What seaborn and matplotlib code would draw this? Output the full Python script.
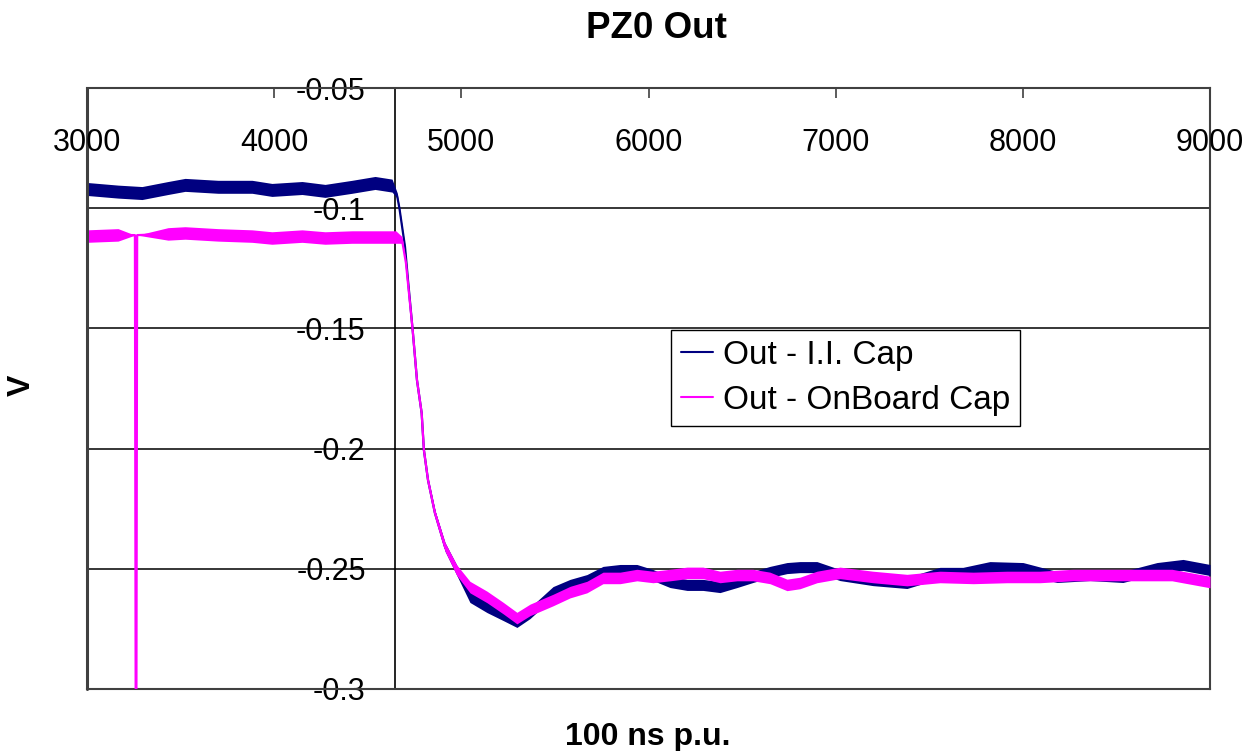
import numpy as np
import pandas as pd
import matplotlib
matplotlib.use("Agg")
import matplotlib.pyplot as plt
from matplotlib.lines import Line2D
import seaborn as sns

# ---- data -------------------------------------------------------------
title = "PZ0 Out"
x_label = "100 ns p.u."
y_label = "V"
series_names = ["Out - I.I. Cap", "Out - OnBoard Cap"]

x_ticks = [3000, 4000, 5000, 6000, 7000, 8000, 9000]
y_ticks = [-0.3, -0.25, -0.2, -0.15, -0.1, -0.05]
y_tick_labels = ["-0.3", "-0.25", "-0.2", "-0.15", "-0.1", "-0.05"]
y_axis_cross = 4645

# Out - I.I. Cap (trace centre and noise half-width)
ii_x = [3000, 3166, 3294, 3433, 3524, 3700, 3882, 3988, 4149, 4272, 4416,
        4539, 4630, 4656, 4669, 4699, 4715, 4740, 4763, 4788, 4800, 4822,
        4859, 4913, 4975, 5046, 5137, 5223, 5297, 5367, 5490, 5581, 5671,
        5757, 5848, 5938, 6024, 6115, 6206, 6291, 6382, 6473, 6558, 6649,
        6740, 6809, 6900, 7023, 7199, 7381, 7557, 7680, 7824, 8001, 8182,
        8359, 8535, 8717, 8856, 9000]
ii_v = [-0.0920, -0.0931, -0.0937, -0.0916, -0.0903, -0.0911, -0.0911,
        -0.0924, -0.0916, -0.0928, -0.0911, -0.0895, -0.0906, -0.0945,
        -0.0999, -0.1160, -0.1299, -0.1507, -0.1715, -0.1852, -0.2006,
        -0.2131, -0.2268, -0.2409, -0.2505, -0.2617, -0.2659, -0.2692,
        -0.2721, -0.2684, -0.2597, -0.2567, -0.2547, -0.2513, -0.2505,
        -0.2505, -0.2526, -0.2555, -0.2567, -0.2567, -0.2576, -0.2555,
        -0.2534, -0.2513, -0.2497, -0.2493, -0.2493, -0.2526, -0.2547,
        -0.2559, -0.2517, -0.2517, -0.2493, -0.2497, -0.2534, -0.2526,
        -0.2534, -0.2497, -0.2484, -0.2505]
ii_noise = [0.0027, 0.0027, 0.0027, 0.0027, 0.0027, 0.0027, 0.0027,
            0.0027, 0.0027, 0.0027, 0.0027, 0.0027, 0.0027, 0.0012,
            0.0005, 0.0003, 0.0003, 0.0003, 0.0003, 0.0003, 0.0004,
            0.0007, 0.0012, 0.0018, 0.0021, 0.0023, 0.0023, 0.0023,
            0.0023, 0.0023, 0.0023, 0.0023, 0.0023, 0.0023, 0.0023,
            0.0023, 0.0023, 0.0023, 0.0023, 0.0023, 0.0023, 0.0023,
            0.0023, 0.0023, 0.0023, 0.0023, 0.0023, 0.0023, 0.0023,
            0.0023, 0.0023, 0.0023, 0.0023, 0.0023, 0.0023, 0.0023,
            0.0023, 0.0023, 0.0023, 0.0023]

# Out - OnBoard Cap (trace centre and noise half-width)
ob_x = [3000, 3166, 3256, 3262, 3268, 3433, 3524, 3700, 3882, 3988, 4149,
        4272, 4416, 4539, 4650, 4683, 4704, 4740, 4763, 4788, 4800, 4822,
        4859, 4913, 4975, 5046, 5137, 5223, 5297, 5367, 5490, 5581, 5671,
        5757, 5848, 5938, 6024, 6115, 6206, 6291, 6382, 6473, 6558, 6649,
        6740, 6809, 6900, 7023, 7199, 7381, 7557, 7735, 7915, 8091, 8267,
        8444, 8620, 8797, 9000]
ob_v = [-0.1116, -0.1111, -0.1112, -0.4000, -0.1112, -0.1107, -0.1103,
        -0.1111, -0.1116, -0.1124, -0.1116, -0.1124, -0.1120, -0.1120,
        -0.1120, -0.1132, -0.1228, -0.1507, -0.1715, -0.1852, -0.2006,
        -0.2131, -0.2268, -0.2409, -0.2505, -0.2576, -0.2617, -0.2663,
        -0.2705, -0.2671, -0.2630, -0.2597, -0.2576, -0.2538, -0.2538,
        -0.2526, -0.2534, -0.2526, -0.2517, -0.2517, -0.2534, -0.2526,
        -0.2526, -0.2538, -0.2567, -0.2559, -0.2534, -0.2517, -0.2534,
        -0.2547, -0.2534, -0.2538, -0.2534, -0.2534, -0.2526, -0.2526,
        -0.2526, -0.2526, -0.2555]
ob_noise = [0.0026, 0.0026, 0.0000, 0.0000, 0.0000, 0.0026, 0.0026,
            0.0026, 0.0026, 0.0026, 0.0026, 0.0026, 0.0026, 0.0026,
            0.0026, 0.0014, 0.0005, 0.0003, 0.0003, 0.0003, 0.0004,
            0.0007, 0.0012, 0.0018, 0.0022, 0.0024, 0.0024, 0.0024,
            0.0024, 0.0024, 0.0024, 0.0024, 0.0024, 0.0024, 0.0024,
            0.0024, 0.0024, 0.0024, 0.0024, 0.0024, 0.0024, 0.0024,
            0.0024, 0.0024, 0.0024, 0.0024, 0.0024, 0.0024, 0.0024,
            0.0024, 0.0024, 0.0024, 0.0024, 0.0024, 0.0024, 0.0024,
            0.0024, 0.0024, 0.0024]

colors = ["#000080", "#FF00FF"]

# ---- style ------------------------------------------------------------
sns.set_theme(style="white")
plt.rcParams["font.family"] = ["Liberation Sans", "DejaVu Sans"]
plt.rcParams["text.color"] = "black"
plt.rcParams["axes.labelcolor"] = "black"
plt.rcParams["xtick.color"] = "black"
plt.rcParams["ytick.color"] = "black"

W, H = 1249, 751
fig = plt.figure(figsize=(W / 100, H / 100), dpi=100)
ax = fig.add_axes([87 / W, 1 - 689 / H, (1210 - 87) / W, (689 - 88) / H])

df_ii = pd.DataFrame({"x": ii_x, "v": ii_v, "n": ii_noise})
df_ob = pd.DataFrame({"x": ob_x, "v": ob_v, "n": ob_noise})

for df, col, name in [(df_ii, colors[0], series_names[0]),
                      (df_ob, colors[1], series_names[1])]:
    ax.fill_between(df["x"], df["v"] - df["n"], df["v"] + df["n"],
                    color=col, lw=0, zorder=3)
    sns.lineplot(data=df, x="x", y="v", ax=ax, color=col, lw=1.6,
                 sort=False, estimator=None, legend=False, zorder=3)

ax.set_xlim(x_ticks[0], x_ticks[-1])
ax.set_ylim(y_ticks[0], y_ticks[-1])

# horizontal gridlines only
for yv in y_ticks[1:-1]:
    ax.axhline(yv, color="black", lw=1.1, zorder=1)

# frame
frame_col = "#404040"
for s in ["top", "right", "bottom"]:
    ax.spines[s].set_visible(True)
    ax.spines[s].set_color(frame_col)
    ax.spines[s].set_linewidth(1.5)
ax.axvline(x_ticks[0], color=frame_col, lw=2.2, zorder=4, clip_on=False)

# value axis crossing inside the plot
ax.spines["left"].set_position(("data", y_axis_cross))
ax.spines["left"].set_color("black")
ax.spines["left"].set_linewidth(1.2)
ax.spines["left"].set_zorder(2)
ax.set_yticks(y_ticks)
ax.set_yticklabels(y_tick_labels)
ax.tick_params(axis="y", length=0, pad=21, labelsize=22, colors="black")

# category axis along the top, labels hanging inside the plot
ax.xaxis.tick_top()
ax.set_xticks(x_ticks)
ax.set_xticklabels([])
ax.tick_params(axis="x", direction="in", length=7, width=1.2,
               color=frame_col, top=True, bottom=False)
for xv in x_ticks:
    ax.text(xv, 1 - (151 - 88) / (689 - 88), str(xv),
            transform=ax.get_xaxis_transform(), ha="center", va="baseline",
            fontsize=22, color="black", clip_on=False, zorder=5)

ax.set_xlabel("")
ax.set_ylabel("")
fig.text(656 / W, 1 - 29 / H, title, ha="center", va="center",
         fontsize=26.5, fontweight="bold", color="black")
fig.text(648 / W, 1 - 737 / H, x_label, ha="center", va="center",
         fontsize=23, fontweight="bold", color="black")
fig.text(22 / W, 1 - 385 / H, y_label, ha="center", va="center",
         fontsize=23, fontweight="bold", rotation=90, color="black")

handles = [Line2D([], [], color=c, lw=1.5) for c in colors]
leg = ax.legend(handles, series_names, loc="upper left",
                bbox_to_anchor=((671 - 87) / 1123, 1 - (330 - 88) / 601),
                borderaxespad=0, fontsize=24, frameon=True, fancybox=False,
                edgecolor="black", framealpha=1, handlelength=0.95,
                handletextpad=0.3, labelspacing=0.42, borderpad=0.3)
leg.get_frame().set_linewidth(1.0)
for t in leg.get_texts():
    t.set_color("black")
leg.set_zorder(6)

fig.savefig("out.png", dpi=100, facecolor="white")
